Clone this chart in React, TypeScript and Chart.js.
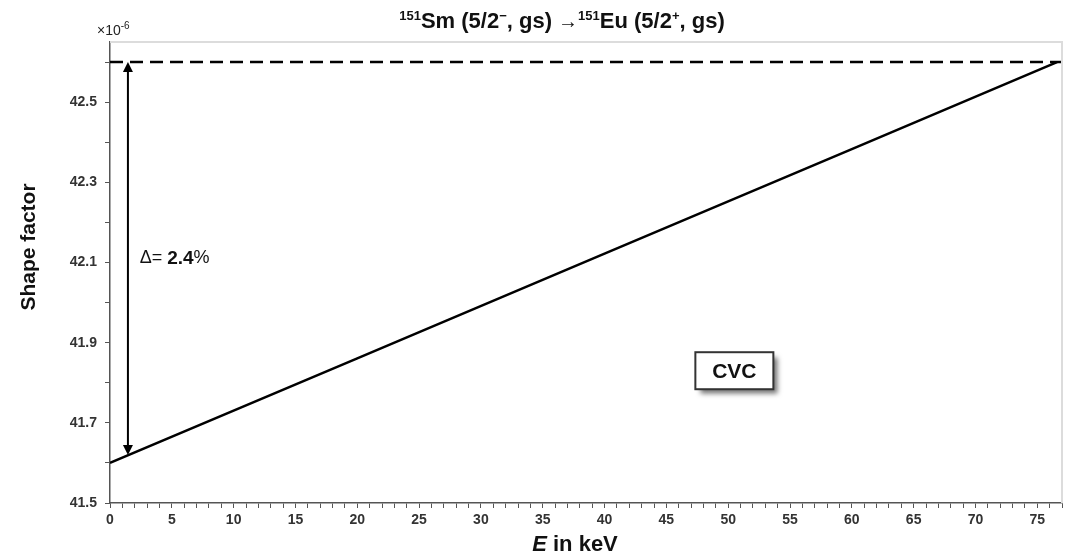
import React, { useEffect, useRef } from "react";
import { Chart, registerables } from "chart.js";

Chart.register(...registerables);

// Data
const energy = [0, 20, 40, 60, 76.6];
const shapeFactor = [41.6, 41.861, 42.122, 42.383, 42.6];
const dashedX = [0, 77];
const dashedY = [42.6, 42.6];
const arrowX = 1.45;
const arrowTop = 42.6;
const arrowBottom = 41.62;
const deltaLabel = "2.4";
const boxLabel = "CVC";
const boxCenter = { x: 50.5, y: 41.83 };
const deltaPos = { x: 2.4, y: 42.11 };

const FONT = "'Liberation Sans', Arial, sans-serif";

const overlay = {
  id: "overlay",
  afterDraw(chart: any) {
    const ctx = chart.ctx as CanvasRenderingContext2D;
    const ca = chart.chartArea;
    const xs = chart.scales.x;
    const ys = chart.scales.y;
    ctx.save();

    // light frame top/right
    ctx.strokeStyle = "#dcdcdc";
    ctx.lineWidth = 2;
    ctx.beginPath();
    ctx.moveTo(ca.left, ca.top);
    ctx.lineTo(ca.right, ca.top);
    ctx.lineTo(ca.right, ca.bottom);
    ctx.stroke();

    // title with superscripts
    const big = `bold 22px ${FONT}`;
    const sup = `bold 13px ${FONT}`;
    const arrowFont = `20px ${FONT}`;
    const parts: { t: string; f: string; dy: number }[] = [
      { t: "151", f: sup, dy: -8 },
      { t: "Sm (5/2", f: big, dy: 0 },
      { t: "\u2212", f: sup, dy: -8 },
      { t: ", gs) ", f: big, dy: 0 },
      { t: "\u2192", f: arrowFont, dy: 0 },
      { t: "151", f: sup, dy: -8 },
      { t: "Eu (5/2", f: big, dy: 0 },
      { t: "+", f: sup, dy: -8 },
      { t: ", gs)", f: big, dy: 0 },
    ];
    let total = 0;
    for (const p of parts) {
      ctx.font = p.f;
      total += ctx.measureText(p.t).width;
    }
    let cx = 562 - total / 2;
    const baseY = 28;
    ctx.fillStyle = "#111";
    ctx.textBaseline = "alphabetic";
    ctx.textAlign = "left";
    for (const p of parts) {
      ctx.font = p.f;
      ctx.fillText(p.t, cx, baseY + p.dy);
      cx += ctx.measureText(p.t).width;
    }

    // x10^-6
    ctx.fillStyle = "#222";
    ctx.font = `14px ${FONT}`;
    ctx.fillText("\u00d710", 97, 35);
    const w10 = ctx.measureText("\u00d710").width;
    ctx.font = `10px ${FONT}`;
    ctx.fillText("-6", 97 + w10, 29);

    // double arrow
    const ax = xs.getPixelForValue(arrowX);
    const ay1 = ys.getPixelForValue(arrowTop);
    const ay2 = ys.getPixelForValue(arrowBottom);
    ctx.strokeStyle = "#000";
    ctx.fillStyle = "#000";
    ctx.lineWidth = 2;
    ctx.beginPath();
    ctx.moveTo(ax, ay1 + 8);
    ctx.lineTo(ax, ay2 - 8);
    ctx.stroke();
    ctx.beginPath();
    ctx.moveTo(ax, ay1);
    ctx.lineTo(ax - 5, ay1 + 10);
    ctx.lineTo(ax + 5, ay1 + 10);
    ctx.closePath();
    ctx.fill();
    ctx.beginPath();
    ctx.moveTo(ax, ay2);
    ctx.lineTo(ax - 5, ay2 - 10);
    ctx.lineTo(ax + 5, ay2 - 10);
    ctx.closePath();
    ctx.fill();

    // delta text
    const dx = xs.getPixelForValue(deltaPos.x);
    const dy = ys.getPixelForValue(deltaPos.y);
    ctx.textBaseline = "middle";
    ctx.fillStyle = "#111";
    let tx = dx;
    ctx.font = `18px ${FONT}`;
    ctx.fillText("\u0394= ", tx, dy);
    tx += ctx.measureText("\u0394= ").width;
    ctx.font = `bold 19px ${FONT}`;
    ctx.fillText(deltaLabel, tx, dy);
    tx += ctx.measureText(deltaLabel).width;
    ctx.font = `18px ${FONT}`;
    ctx.fillText("%", tx, dy);

    // CVC box with shadow
    const bx = xs.getPixelForValue(boxCenter.x);
    const by = ys.getPixelForValue(boxCenter.y);
    const bw = 78;
    const bh = 37;
    ctx.save();
    ctx.shadowColor = "rgba(0,0,0,0.55)";
    ctx.shadowBlur = 5;
    ctx.shadowOffsetX = 5;
    ctx.shadowOffsetY = 5;
    ctx.fillStyle = "#fff";
    ctx.fillRect(bx - bw / 2, by - bh / 2, bw, bh);
    ctx.restore();
    ctx.strokeStyle = "#333";
    ctx.lineWidth = 2;
    ctx.strokeRect(bx - bw / 2, by - bh / 2, bw, bh);
    ctx.fillStyle = "#111";
    ctx.font = `bold 21px ${FONT}`;
    ctx.textAlign = "center";
    ctx.fillText(boxLabel, bx, by + 1);

    // y axis title
    ctx.save();
    ctx.translate(29, 247);
    ctx.rotate(-Math.PI / 2);
    ctx.font = `bold 21px ${FONT}`;
    ctx.textAlign = "center";
    ctx.textBaseline = "middle";
    ctx.fillText("Shape factor", 0, 0);
    ctx.restore();

    // x axis title with italic E
    ctx.textAlign = "left";
    ctx.textBaseline = "alphabetic";
    const e = "E";
    const rest = " in keV";
    ctx.font = `bold italic 22px ${FONT}`;
    const we = ctx.measureText(e).width;
    ctx.font = `bold 22px ${FONT}`;
    const wr = ctx.measureText(rest).width;
    const sx = 575 - (we + wr) / 2;
    ctx.font = `bold italic 22px ${FONT}`;
    ctx.fillText(e, sx, 551);
    ctx.font = `bold 22px ${FONT}`;
    ctx.fillText(rest, sx + we, 551);

    ctx.restore();
  },
};

export default function App() {
  const ref = useRef<HTMLCanvasElement>(null);
  useEffect(() => {
    document.body.style.margin = "0";
    const canvas = ref.current!;
    const chart = new Chart(canvas, {
      type: "line",
      data: {
        datasets: [
          {
            data: energy.map((x, i) => ({ x, y: shapeFactor[i] })),
            borderColor: "#000",
            borderWidth: 2.5,
            pointRadius: 0,
            tension: 0,
          },
          {
            data: dashedX.map((x, i) => ({ x, y: dashedY[i] })),
            borderColor: "#000",
            borderWidth: 2.5,
            borderDash: [13, 7],
            pointRadius: 0,
          },
        ],
      },
      options: {
        responsive: false,
        animation: false,
        layout: { padding: { top: 42, right: 4, left: 0, bottom: 0 } },
        plugins: { legend: { display: false }, title: { display: false }, tooltip: { enabled: false } },
        scales: {
          x: {
            type: "linear",
            min: 0,
            max: 77,
            afterFit: (s: any) => {
              s.height = 52;
            },
            ticks: {
              stepSize: 1,
              autoSkip: false,
              maxRotation: 0,
              padding: 4,
              color: "#333",
              font: { family: FONT, weight: "bold", size: 14 },
              callback: (v: any) => (Math.round(v) % 5 === 0 ? String(Math.round(v)) : ""),
            },
            grid: { drawOnChartArea: false, drawTicks: true, tickLength: 5, color: "#555" },
            border: { display: true, color: "#555", width: 1.5 },
          },
          y: {
            type: "linear",
            min: 41.5,
            max: 42.65,
            afterFit: (s: any) => {
              s.width = 110;
            },
            afterBuildTicks: (s: any) => {
              s.ticks = s.ticks.filter((t: any) => {
                const k = (t.value - 41.5) * 10;
                return Math.abs(k - Math.round(k)) < 1e-6;
              });
            },
            ticks: {
              stepSize: 0.1,
              padding: 8,
              color: "#333",
              font: { family: FONT, weight: "bold", size: 14 },
              callback: (v: any) => {
                const k = Math.round((v - 41.5) * 10);
                return k % 2 === 0 ? (41.5 + k / 10).toFixed(1) : "";
              },
            },
            grid: { drawOnChartArea: false, drawTicks: true, tickLength: 5, color: "#555" },
            border: { display: true, color: "#555", width: 1.5 },
          },
        },
      },
      plugins: [overlay],
    } as any);
    return () => chart.destroy();
  }, []);
  return (
    <canvas
      ref={ref}
      width={1066}
      height={555}
      style={{ display: "block", width: 1066, height: 555 }}
    />
  );
}
